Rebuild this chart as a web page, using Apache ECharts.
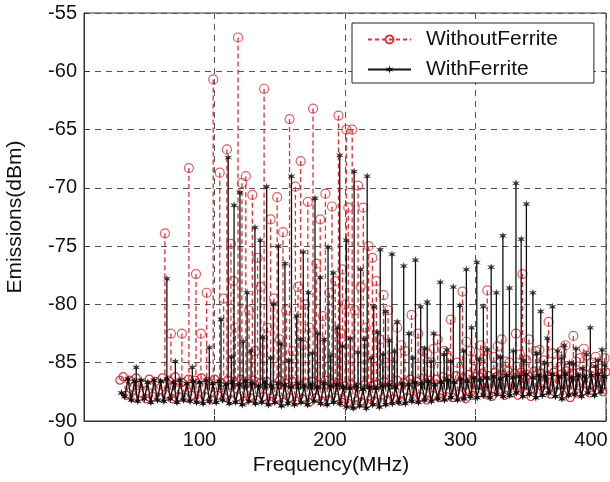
<!DOCTYPE html>
<html><head><meta charset="utf-8">
<script src="https://cdn.jsdelivr.net/npm/echarts@6/dist/echarts.min.js"></script>
<style>html,body{margin:0;padding:0;background:#fff}#c{width:610px;height:482px}</style>
</head><body><div id="c"></div>
<script>
const xTicks = [0, 100, 200, 300, 400];
const yTicks = [-90, -85, -80, -75, -70, -65, -60, -55];
const seriesNames = ['WithoutFerrite', 'WithFerrite'];

// spectral peaks [MHz, dBm]
const redPeaks = [[62,-73.9],[66.6,-82.5],[75,-82.5],[80.4,-68.3],[85.8,-77.4],[89.6,-82.5],[94,-79.0],[99,-60.7],[104,-68.7],[107,-79.5],[109.5,-66.7],[112.6,-74.8],[114.5,-78],[116,-82],[118,-57.1],[121,-69.6],[124,-69.0],[126.5,-80.5],[129,-70.6],[131,-84],[133,-76],[135.5,-78.5],[138,-61.5],[140.5,-82],[143,-72.7],[145.5,-79.5],[148,-70.8],[150,-83],[152.5,-73.8],[155,-80.5],[157.5,-64.1],[160,-84],[162,-69.9],[164,-78.5],[166,-67.7],[168,-83.5],[169.5,-80],[171.5,-71.2],[173,-82],[175.5,-63.2],[178,-76.5],[181,-72.7],[183,-81],[185,-70.5],[188,-79],[190,-71.6],[192.5,-78],[195,-63.8],[196.5,-82.5],[198,-77],[200,-80],[201,-65.0],[202.5,-71.7],[205.5,-65.0],[207.5,-80.5],[210,-69.8],[212,-78.5],[214,-71.7],[216,-82],[218,-75],[221,-76.0],[224,-78],[226.5,-83],[229.5,-79.2],[231,-85],[233,-80.5],[237,-84.5],[240,-82],[243,-83.5],[246,-84],[251,-80.9],[256,-82.5],[260,-84],[263,-84.2],[266,-85],[268,-83.8],[271,-83.0],[276,-84],[279,-84.6],[281,-81.3],[286,-85],[290,-78.9],[293,-83.2],[296,-84],[299,-84.8],[304,-83.5],[307,-84.0],[309,-78.8],[314,-84.5],[317,-83.6],[320,-83],[323,-84.9],[326,-85],[331,-82.5],[334,-84.3],[336,-77.4],[339,-84.8],[341,-83],[346,-84],[349,-83.9],[352,-84.8],[356,-81.5],[359,-84.2],[362,-85],[366,-84],[369,-83.5],[371,-85.5],[375,-82.7],[377,-84.9],[380,-84.6],[383,-83.8],[385,-84.4],[389,-85.0],[392,-84.5],[396,-85.5],[399,-84.6]];
const blackPeaks = [[40,-85.4],[63.5,-77.8],[70,-84.9],[83,-85.4],[96,-83.7],[105,-81.3],[110.5,-67.4],[113,-84.5],[115,-71.5],[119.5,-70.4],[122,-83.2],[125,-79],[128,-84.0],[131,-73.4],[135,-74.5],[137,-82.8],[140,-69.9],[143,-84.6],[145,-80],[149,-75.0],[151,-83.4],[154,-76.5],[157,-84.8],[159,-69.0],[163,-81],[166,-83.0],[168,-75.5],[172,-79],[175,-84.2],[177,-70.9],[179,-82.5],[181,-77.7],[184,-83],[187,-75.1],[189,-84.4],[191,-77.3],[194,-82],[196,-67.2],[198,-83.6],[201,-74.5],[204,-82.9],[207,-68.6],[210,-84.1],[212,-77],[215,-83.0],[217,-69.0],[220,-84.6],[222,-80.2],[225,-82.4],[227,-75.3],[229,-84.3],[231,-80.6],[234,-83.1],[236,-75.7],[238,-84.0],[240,-81.5],[245,-76.7],[249,-82.5],[252,-84.6],[254,-76.2],[258,-80.2],[261,-83.8],[263,-79.8],[266,-84.9],[268,-82.5],[273,-78.1],[276,-84.3],[278,-83.9],[281,-84.9],[283,-78.5],[288,-80.1],[291,-84.0],[293,-77.0],[297,-82],[301,-76.4],[303,-84.7],[306,-80.2],[309,-83.9],[312,-76.8],[316,-79.0],[319,-84.5],[321,-74.1],[326,-78.6],[329,-84.0],[331,-69.6],[335,-74.4],[337,-84.8],[339,-71.4],[344,-79.0],[347,-84.2],[350,-80.6],[353,-85.0],[355,-82.9],[359,-80.2],[363,-84],[366,-84.6],[368,-83.5],[372,-85],[375,-85.1],[377,-83.8],[382,-85.5],[385,-84.3],[388,-82.0],[392,-85.3],[394,-84.8],[397,-83.9],[399,-85.2]];

// noise floor samples, every 2.5 MHz
const redFloorStart = 27.5, blackFloorStart = 28.75, floorStep = 2.5;
const redFloor = [-86.5,
-86.2,-87.8,-86.5,-88.0,-86.3,-87.6,-86.8,-88.1,-86.4,-87.9,-86.6,
-88.0,-86.3,-87.7,-86.5,-88.1,-86.2,-87.9,-86.7,-88.0,-86.4,-87.8,
-86.5,-88.1,-86.3,-87.9,-86.6,-88.2,-86.4,-87.8,-86.7,-88.0,-86.5,
-88.2,-86.6,-87.9,-86.4,-88.3,-86.8,-88.0,-86.5,-88.2,-86.7,-87.9,
-86.6,-88.3,-86.9,-88.1,-86.5,-88.4,-86.8,-88.0,-86.6,-88.3,-86.9,
-88.1,-86.7,-88.4,-86.6,-88.0,-86.9,-88.3,-86.5,-88.2,-86.8,-88.0,
-86.7,-88.4,-87.0,-88.5,-86.8,-88.6,-87.1,-88.4,-86.9,-88.5,-87.0,
-88.3,-86.8,-88.4,-86.6,-88.2,-86.9,-88.1,-86.5,-88.3,-86.7,-88.0,
-86.4,-88.1,-86.6,-87.9,-86.3,-88.2,-86.5,-87.8,-86.4,-88.0,-86.2,
-87.9,-86.4,-88.0,-86.1,-87.7,-86.3,-88.1,-86.0,-87.8,-86.2,-87.6,
-85.9,-87.7,-86.1,-87.9,-85.8,-87.5,-86.0,-87.8,-85.7,-87.6,-85.9,
-87.8,-85.8,-87.5,-86.0,-87.9,-85.7,-87.6,-85.9,-87.4,-86.1,-87.7,
-85.8,-87.5,-86.0,-87.8,-85.7,-88.0,-85.9,-87.6,-85.8,-87.4,-86.0,
-87.6,-85.7,-87.3,-85.9,-87.5,-85.8];
const blackFloor = [-87.6,
-87.9,-86.4,-88.2,-86.6,-88.3,-86.5,-88.1,-86.7,-88.4,-86.5,-88.2,
-86.6,-88.3,-86.4,-88.1,-86.7,-88.4,-86.5,-88.2,-86.8,-88.3,-86.6,
-88.4,-86.7,-88.5,-86.5,-88.3,-86.8,-88.4,-86.6,-88.2,-86.9,-88.5,
-86.7,-88.4,-86.9,-88.6,-86.6,-88.3,-86.8,-88.5,-87.0,-88.4,-86.7,
-88.6,-87.0,-88.4,-86.8,-88.7,-86.9,-88.5,-87.1,-88.6,-86.8,-88.4,
-87.0,-88.6,-86.9,-88.3,-87.1,-88.5,-86.8,-88.6,-87.0,-88.4,-86.9,
-88.5,-87.1,-88.8,-87.2,-88.9,-87.0,-88.7,-87.3,-88.9,-87.1,-88.6,
-87.2,-88.8,-87.0,-88.6,-86.9,-88.5,-87.1,-88.4,-86.8,-88.5,-86.9,
-88.3,-86.7,-88.4,-86.8,-88.2,-86.6,-88.3,-86.9,-88.1,-86.7,-88.2,
-86.5,-88.0,-86.7,-88.2,-86.4,-88.1,-86.6,-87.9,-86.3,-88.0,-86.5,
-87.8,-86.3,-88.0,-86.2,-87.7,-86.4,-87.9,-86.1,-87.8,-86.3,-87.6,
-86.2,-87.9,-86.0,-87.7,-86.3,-88.0,-86.1,-87.8,-86.2,-87.6,-86.0,
-87.9,-86.2,-88.1,-86.0,-87.8,-86.3,-87.7,-86.1,-87.9,-86.2,-87.6,
-86.1,-87.8,-86.0,-87.5,-86.2];

const RED = '#d8343a', BLACK = '#111111';
const STEM_BASE = -87.3;
const FONT = '"Liberation Sans", Arial, sans-serif';

function starPath(n, R, r) {
  let d = '';
  for (let i = 0; i < 2 * n; i++) {
    const a = Math.PI * i / n - Math.PI / 2, rad = i % 2 ? r : R;
    d += (i ? 'L' : 'M') + (R + rad * Math.cos(a)).toFixed(2) + ',' + (R + rad * Math.sin(a)).toFixed(2);
  }
  return 'path://' + d + 'Z';
}
const STAR = starPath(6, 10, 3.8);

function stem(color, dash, width) {
  return function (params, api) {
    const top = api.coord([api.value(0), api.value(1)]);
    const bot = api.coord([api.value(0), STEM_BASE]);
    return { type: 'line', shape: { x1: top[0], y1: top[1], x2: bot[0], y2: bot[1] },
      style: { stroke: color, lineWidth: width, lineDash: dash } };
  };
}

const redFloorData = redFloor.map((v, i) => [redFloorStart + i * floorStep, v]);
const blackFloorData = blackFloor.map((v, i) => [blackFloorStart + i * floorStep, v]);

const chart = echarts.init(document.getElementById('c'));
chart.setOption({
  animation: false,
  backgroundColor: '#fff',
  grid: { left: 84, right: 4, top: 13, bottom: 61, containLabel: false, outerBoundsMode: 'none',
    show: true, borderColor: '#333', borderWidth: 1, backgroundColor: 'transparent' },
  xAxis: {
    type: 'value', min: xTicks[0], max: xTicks[xTicks.length - 1], interval: 100,
    name: 'Frequency(MHz)', nameLocation: 'middle', nameGap: 34,
    nameTextStyle: { fontSize: 21, fontFamily: FONT, color: '#111', padding: [0, 28, 0, 0] },
    axisLine: { show: true, lineStyle: { color: '#333' } },
    axisTick: { show: true, inside: true, length: 5, lineStyle: { color: '#333' } },
    axisLabel: { fontSize: 20, fontFamily: FONT, color: '#111', margin: 9, padding: [0, 30, 0, 0],
      formatter: v => xTicks.includes(v) ? String(v) : '' },
    splitLine: { show: true, lineStyle: { color: '#555', type: [6, 5], width: 1 } }
  },
  yAxis: {
    type: 'value', min: yTicks[0], max: yTicks[yTicks.length - 1], interval: 5,
    name: 'Emissions(dBm)', nameLocation: 'middle', nameGap: 58,
    nameTextStyle: { fontSize: 21, fontFamily: FONT, color: '#111' },
    axisLine: { show: true, lineStyle: { color: '#333' } },
    axisTick: { show: true, inside: true, length: 5, lineStyle: { color: '#333' } },
    axisLabel: { fontSize: 20, fontFamily: FONT, color: '#111', margin: 7 },
    splitLine: { show: true, lineStyle: { color: '#555', type: [6, 5], width: 1 } }
  },
  legend: {
    data: seriesNames, left: 352, top: 23, orient: 'vertical',
    itemWidth: 43, itemHeight: 10, itemGap: 9, padding: [6, 36, 3, 15],
    borderColor: '#222', borderWidth: 1, backgroundColor: '#fff',
    textStyle: { fontSize: 21, fontFamily: FONT, color: '#111', padding: [0, 0, 0, 10] }
  },
  series: [
    { name: seriesNames[0], type: 'line', data: redFloorData, z: 2,
      symbol: 'circle', symbolSize: 8,
      lineStyle: { color: RED, width: 1.2, type: [4, 3] },
      itemStyle: { color: 'rgba(255,255,255,0)', borderColor: RED, borderWidth: 1.2 } },
    { name: '_redStem', type: 'custom', data: redPeaks, z: 2, renderItem: stem(RED, [5, 3], 1.3),
      encode: { x: 0, y: 1 } },
    { name: '_redTop', type: 'scatter', data: redPeaks, z: 3, symbol: 'circle', symbolSize: 9,
      itemStyle: { color: 'rgba(255,255,255,0)', borderColor: RED, borderWidth: 1.2 } },
    { name: seriesNames[1], type: 'line', data: blackFloorData, z: 4,
      symbol: STAR, symbolSize: 8,
      lineStyle: { color: BLACK, width: 1.4 },
      itemStyle: { color: BLACK } },
    { name: '_blackStem', type: 'custom', data: blackPeaks, z: 4, renderItem: stem(BLACK, null, 1.3),
      encode: { x: 0, y: 1 } },
    { name: '_blackTop', type: 'scatter', data: blackPeaks, z: 5, symbol: STAR, symbolSize: 8,
      itemStyle: { color: BLACK } }
  ]
});
</script></body></html>
